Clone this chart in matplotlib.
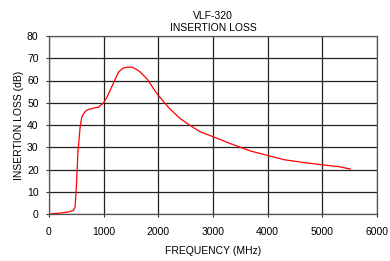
import matplotlib
matplotlib.use("Agg")
import matplotlib.pyplot as plt

plt.rcParams['font.family'] = ['Liberation Sans', 'DejaVu Sans']

freq = [0, 200, 350, 446, 477, 500, 530, 569, 600, 630, 680, 722, 800, 905, 1000,
        1060, 1119, 1200, 1272, 1350, 1425, 1517, 1600, 1670, 1800, 1976, 2200,
        2404, 2600, 2770, 3015, 3300, 3688, 4000, 4300, 4700, 5034, 5300, 5511]
loss = [0, 0.4, 0.9, 1.6, 3.1, 12, 28, 39, 43.5, 45, 46.5, 47, 47.5, 48, 50,
        52.5, 55.6, 60, 63.8, 65.5, 66, 66, 65, 63.8, 60.5, 54, 47.5,
        42.8, 39.5, 36.9, 34.6, 31.8, 28.3, 26.3, 24.4, 23, 22, 21.3, 20.2]

xticks = [0, 1000, 2000, 3000, 4000, 5000, 6000]
yticks = [0, 10, 20, 30, 40, 50, 60, 70, 80]

fig = plt.figure(figsize=(3.9, 2.61), dpi=100)
ax = fig.add_axes([49/390, 1 - 214/261, (377-49)/390, (214-36)/261])
ax.plot(freq, loss, color='#ff0000', linewidth=0.9)
ax.set_xlim(0, 6000)
ax.set_ylim(0, 80)
ax.set_xticks(xticks)
ax.set_yticks(yticks)
ax.grid(True, color='#222222', linewidth=0.9)
ax.set_axisbelow(True)
for s in ax.spines.values():
    s.set_color('#555555')
    s.set_linewidth(0.9)
ax.tick_params(labelsize=7.5, length=2.5, width=0.8, color='#333333')
ax.tick_params(axis='x', pad=7)
ax.tick_params(axis='y', pad=5)
ax.set_xlabel('FREQUENCY (MHz)', fontsize=7.5, labelpad=6)
ax.set_ylabel('INSERTION LOSS (dB)', fontsize=7.5, labelpad=2)
ax.set_title('VLF-320\nINSERTION LOSS', fontsize=7.5, pad=3.5, linespacing=1.25)
fig.savefig('out.png', dpi=100)
